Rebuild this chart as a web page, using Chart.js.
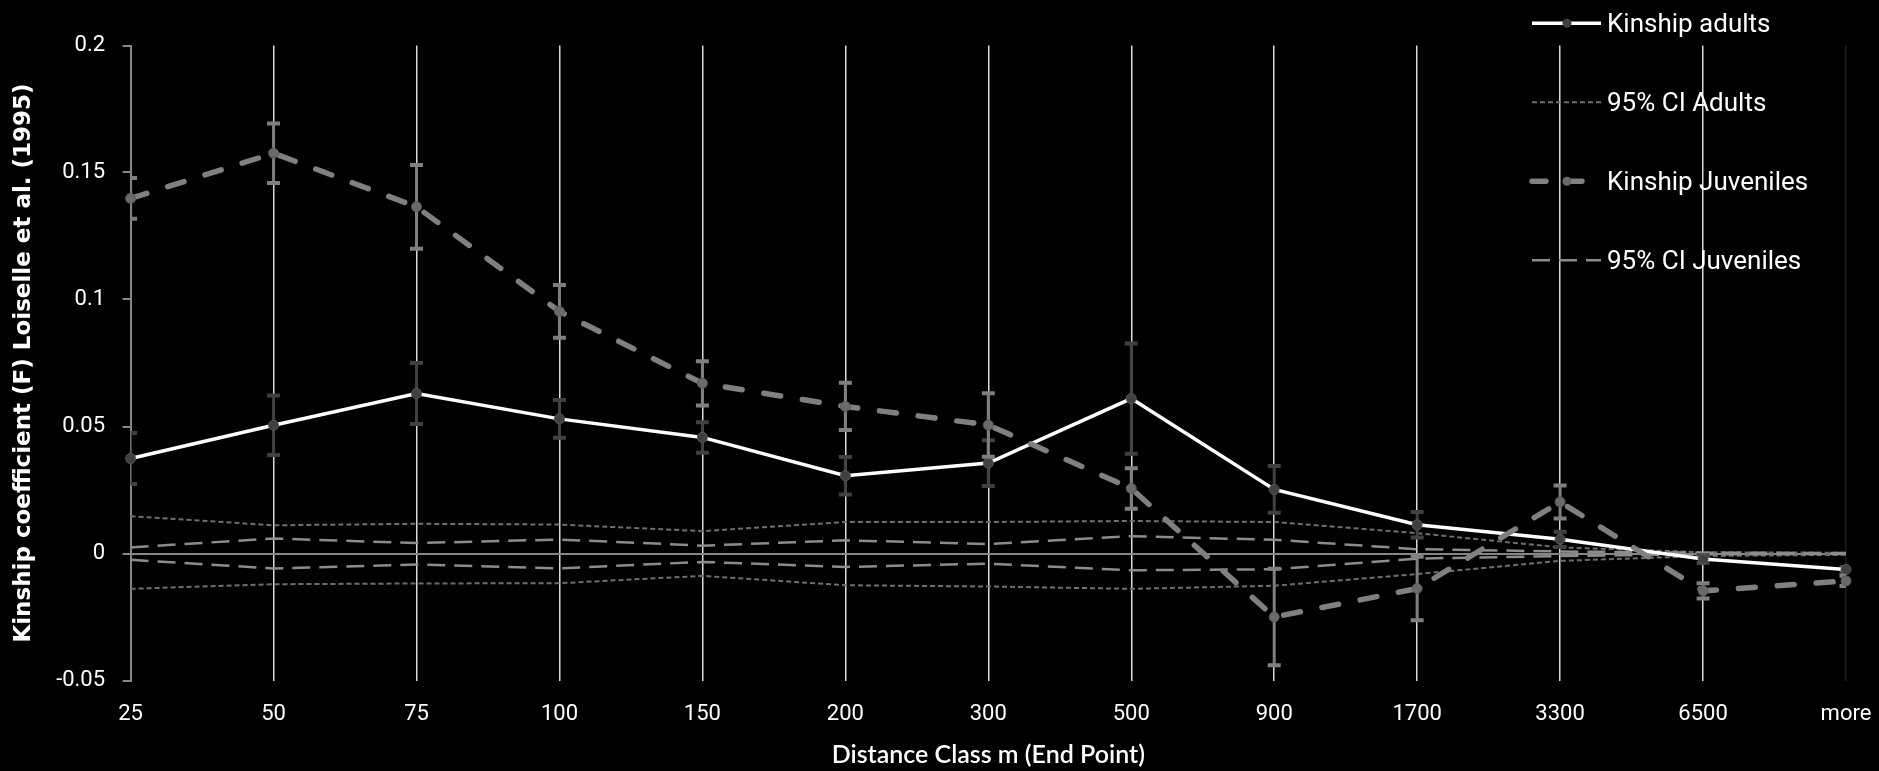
<!DOCTYPE html>
<html>
<head>
<meta charset="utf-8">
<title>Kinship coefficient by distance class</title>
<script src="https://cdn.jsdelivr.net/npm/chart.js@4.4.1/dist/chart.umd.min.js"></script>
<style>
  html, body { margin: 0; padding: 0; background: #000; }
  #wrap { position: relative; width: 1879px; height: 771px; }
</style>
</head>
<body>
<div id="wrap"><canvas id="kinChart"></canvas></div>
<script>
// Clases de distancia (eje X)
const distanceClasses = ['25', '50', '75', '100', '150', '200', '300', '500', '900', '1700', '3300', '6500', 'more'];
const yTickLabels = ['-0.05', '0', '0.05', '0.1', '0.15', '0.2'];

// Kinship adultos y su error
const kinAdults = [0.0374, 0.0505, 0.063, 0.053, 0.0457, 0.0306, 0.0356, 0.061, 0.0252, 0.0113, 0.0056, -0.0022, -0.0063];
const kinAdultsErr = [0.010, 0.0117, 0.012, 0.0074, 0.006, 0.0074, 0.009, 0.0217, 0.0092, 0.005, 0.003, 0.0015, 0.001];

// Kinship juveniles y su error
const kinJuv = [0.1398, 0.1576, 0.1365, 0.0953, 0.067, 0.0579, 0.0506, 0.0256, -0.025, -0.0138, 0.0203, -0.0147, -0.0108];
const kinJuvErr = [0.008, 0.0117, 0.0165, 0.0104, 0.0087, 0.0093, 0.0125, 0.008, 0.019, 0.0125, 0.0065, 0.003, 0.002];

// Intervalos de confianza 95%
const ciAdultsUpper = [0.0147, 0.0111, 0.0117, 0.0114, 0.0088, 0.0124, 0.0124, 0.0128, 0.0124, 0.008, 0.0024, 0.0005, 0.0003];
const ciAdultsLower = [-0.0139, -0.0121, -0.0118, -0.0117, -0.0088, -0.0125, -0.013, -0.0139, -0.0127, -0.0081, -0.0029, -0.001, -0.0005];
const ciJuvUpper = [0.0024, 0.0059, 0.0041, 0.0055, 0.0031, 0.0052, 0.0037, 0.0068, 0.0054, 0.0017, 0.0008, 0.0003, 0.0002];
const ciJuvLower = [-0.0025, -0.0059, -0.0043, -0.0059, -0.0033, -0.0053, -0.004, -0.0066, -0.0062, -0.002, -0.001, -0.0003, -0.0002];

// Barras de error dibujadas con las escalas del gráfico
const errorBars = {
    id: 'errorBars',
    beforeDatasetDraw(chart, args) {
        const ds = chart.data.datasets[args.index];
        if (!ds.errors) return;
        const ctx = chart.ctx;
        const xs = chart.scales.x, ys = chart.scales.y, area = chart.chartArea;
        ctx.save();
        ctx.beginPath();
        ctx.rect(area.left, area.top, area.right - area.left, area.bottom - area.top);
        ctx.clip();
        ctx.strokeStyle = ds.errorColor;
        ds.data.forEach(function(v, i) {
            const px = xs.getPixelForValue(i);
            const top = ys.getPixelForValue(v + ds.errors[i]);
            const bot = ys.getPixelForValue(v - ds.errors[i]);
            ctx.lineWidth = ds.errorWidth;
            ctx.beginPath();
            ctx.moveTo(px, top);
            ctx.lineTo(px, bot);
            ctx.stroke();
            ctx.lineWidth = ds.errorWidth + 1;
            ctx.beginPath();
            ctx.moveTo(px - 6.5, top); ctx.lineTo(px + 6.5, top);
            ctx.moveTo(px - 6.5, bot); ctx.lineTo(px + 6.5, bot);
            ctx.stroke();
        });
        ctx.restore();
    }
};

// Leyenda arriba a la derecha, sobre el área del gráfico
const sideLegend = {
    id: 'sideLegend',
    afterDraw(chart) {
        const ctx = chart.ctx;
        const items = chart.data.datasets.filter(d => d.inLegend);
        items.sort((a, b) => a.legendRank - b.legendRank);
        items.forEach(function(ds, i) {
            const ly = 23.3 + i * 79;
            ctx.save();
            ctx.strokeStyle = ds.borderColor;
            ctx.lineWidth = ds.borderWidth;
            ctx.lineCap = ds.borderCapStyle || 'butt';
            ctx.setLineDash(ds.legendDash || ds.borderDash || []);
            ctx.beginPath();
            ctx.moveTo(1532, ly);
            ctx.lineTo(1601, ly);
            ctx.stroke();
            ctx.setLineDash([]);
            if (ds.pointRadius > 0) {
                ctx.fillStyle = ds.pointBackgroundColor;
                ctx.beginPath();
                ctx.arc(1567, ly, 4.5, 0, Math.PI * 2);
                ctx.fill();
            }
            ctx.fillStyle = '#ffffff';
            ctx.font = '26px Roboto, "Liberation Sans", sans-serif';
            ctx.textBaseline = 'alphabetic';
            ctx.textAlign = 'left';
            ctx.fillText(ds.label, 1607, ly + 9);
            ctx.restore();
        });
    }
};

function initChart() {
    const el = document.getElementById('kinChart');
    new Chart(el.getContext('2d'), {
        type: 'line',
        data: {
            labels: distanceClasses,
            datasets: [
                {
                    label: 'Kinship Juveniles',
                    data: kinJuv,
                    errors: kinJuvErr,
                    errorColor: '#7f7f7f',
                    errorWidth: 3,
                    borderColor: '#808080',
                    borderWidth: 5.5,
                    borderDash: [17, 22],
                    legendDash: [14, 22],
                    borderCapStyle: 'round',
                    pointRadius: 5,
                    pointBackgroundColor: '#6a6a6a',
                    pointBorderColor: '#5a5a5a',
                    pointBorderWidth: 1,
                    tension: 0,
                    order: 0,
                    inLegend: true,
                    legendRank: 2
                },
                {
                    label: 'Kinship adults',
                    data: kinAdults,
                    errors: kinAdultsErr,
                    errorColor: '#404040',
                    errorWidth: 3,
                    borderColor: '#ffffff',
                    borderWidth: 3.5,
                    pointRadius: 5,
                    pointBackgroundColor: '#404040',
                    pointBorderColor: '#595959',
                    pointBorderWidth: 1,
                    tension: 0,
                    order: 1,
                    inLegend: true,
                    legendRank: 0
                },
                {
                    label: '95% CI Juveniles',
                    data: ciJuvUpper,
                    borderColor: '#8c8c8c',
                    borderWidth: 2.5,
                    borderDash: [18, 9],
                    pointRadius: 0,
                    order: 2,
                    inLegend: true,
                    legendRank: 3
                },
                {
                    label: '95% CI Juveniles',
                    data: ciJuvLower,
                    borderColor: '#8c8c8c',
                    borderWidth: 2.5,
                    borderDash: [18, 9],
                    pointRadius: 0,
                    order: 2
                },
                {
                    label: '95% CI Adults',
                    data: ciAdultsUpper,
                    borderColor: '#6e6e6e',
                    borderWidth: 2,
                    borderDash: [5, 3],
                    pointRadius: 0,
                    order: 3,
                    inLegend: true,
                    legendRank: 1
                },
                {
                    label: '95% CI Adults',
                    data: ciAdultsLower,
                    borderColor: '#6e6e6e',
                    borderWidth: 2,
                    borderDash: [5, 3],
                    pointRadius: 0,
                    order: 3
                }
            ]
        },
        options: {
            responsive: true,
            maintainAspectRatio: false,
            animation: false,
            layout: { padding: { top: 45.5, right: 33, bottom: 0, left: 0 } },
            plugins: {
                legend: { display: false },
                tooltip: { enabled: false }
            },
            scales: {
                x: {
                    type: 'category',
                    offset: false,
                    border: { display: false },
                    grid: {
                        color: function(c) {
                            if (c.index === 0) return 'rgba(0,0,0,0)';
                            if (c.index === distanceClasses.length - 1) return '#1c1c1c';
                            return '#d9d9d9';
                        },
                        lineWidth: 1.5,
                        drawTicks: false
                    },
                    ticks: {
                        color: '#ffffff',
                        font: { family: 'Roboto', size: 22 },
                        padding: 21,
                        maxRotation: 0,
                        autoSkip: false
                    },
                    title: {
                        display: true,
                        text: 'Distance Class m (End Point)',
                        color: '#ffffff',
                        font: { family: 'Lato', size: 25, weight: '600' },
                        padding: { top: 0, bottom: 1 }
                    },
                    afterFit: function(scale) {
                        scale.height = 90.5;
                        scale.paddingLeft = 0;
                        scale.paddingRight = 0;
                    }
                },
                y: {
                    min: -0.05,
                    max: 0.2,
                    border: { color: '#868686', width: 2 },
                    grid: {
                        color: function(c) {
                            return (c.tick && Math.abs(c.tick.value) < 1e-9) ? '#868686' : 'rgba(0,0,0,0)';
                        },
                        lineWidth: 2,
                        tickColor: '#868686',
                        tickLength: 8,
                        tickWidth: 2
                    },
                    ticks: {
                        stepSize: 0.05,
                        color: '#ffffff',
                        font: { family: 'Roboto', size: 22 },
                        padding: 17.5,
                        callback: function(value, index) { return yTickLabels[index]; }
                    },
                    title: {
                        display: true,
                        text: 'Kinship coefficient (F) Loiselle et al. (1995)',
                        color: '#ffffff',
                        font: { family: 'DejaVu Sans', size: 23, weight: 'bold' },
                        padding: { top: 10, bottom: 0 }
                    },
                    afterFit: function(scale) { scale.width = 130.6; }
                }
            }
        },
        plugins: [errorBars, sideLegend]
    });
}

document.addEventListener('DOMContentLoaded', initChart);
</script>
</body>
</html>
